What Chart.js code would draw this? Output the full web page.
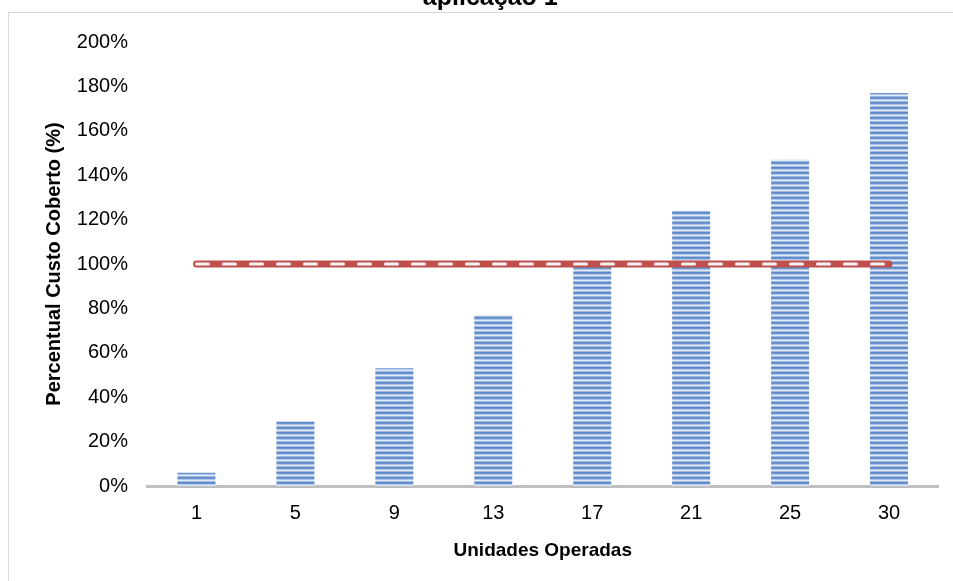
<!DOCTYPE html>
<html>
<head>
<meta charset="utf-8">
<title>Percentual Custo Coberto</title>
<script src="https://cdn.jsdelivr.net/npm/chart.js@4.4.1/dist/chart.umd.min.js"></script>
<style>
  body { margin: 0; background: #ffffff; overflow: hidden; width: 953px; height: 581px; position: relative; }
  .moldura { position: absolute; left: 8px; top: 12px; width: 1000px; height: 640px; border: 1px solid #d9d9d9; }
  .caixa { position: absolute; left: 0; top: -18px; width: 953px; height: 599px; }
</style>
</head>
<body>
<div class="moldura"></div>
<div class="caixa"><canvas id="grafico"></canvas></div>
<script>
/* dados do grafico */
var unidades = ["1", "5", "9", "13", "17", "21", "25", "30"];
var percentualCoberto = [6, 29, 53, 77, 100, 124, 147, 177];
var linhaMeta = [100, 100, 100, 100, 100, 100, 100, 100];
var tituloGrafico = "aplicação 1";
var tituloEixoY = "Percentual Custo Coberto (%)";
var tituloEixoX = "Unidades Operadas";

var fonte = "'Liberation Sans', Arial, sans-serif";

// padrao listrado das barras
function criarListras() {
  var tela = document.createElement("canvas");
  tela.width = 8;
  tela.height = 5;
  var ctx = tela.getContext("2d");
  var cores = ["#5d89ca", "#6d95d0", "#afc5e5", "#e2eaf5", "#a3bbe0"];
  for (var i = 0; i < cores.length; i++) {
    ctx.fillStyle = cores[i];
    ctx.fillRect(0, i, 8, 1);
  }
  return document.getElementById("grafico").getContext("2d").createPattern(tela, "repeat");
}

var contexto = grafico.getContext("2d");
var chartCusto = new Chart(contexto, {
  type: "bar",
  data: {
    labels: unidades,
    datasets: [
      {
        type: "line",
        data: linhaMeta,
        borderColor: "#f2f2f2",
        borderWidth: 3,
        borderDash: [12, 15],
        borderCapStyle: "round",
        pointRadius: 0,
        fill: false,
        order: 1
      },
      {
        type: "line",
        data: linhaMeta,
        borderColor: "#c0504d",
        borderWidth: 7,
        borderCapStyle: "round",
        pointRadius: 0,
        fill: false,
        order: 2
      },
      {
        data: percentualCoberto,
        backgroundColor: criarListras(),
        borderWidth: 0,
        categoryPercentage: 1,
        barPercentage: 0.384,
        order: 3
      }
    ]
  },
  options: {
    responsive: true,
    maintainAspectRatio: false,
    animation: false,
    layout: { padding: { top: 0, left: 42, right: 14.5, bottom: 19 } },
    plugins: {
      legend: { display: false },
      tooltip: { enabled: false },
      title: {
        display: true,
        text: tituloGrafico,
        color: "#000",
        font: { family: fonte, size: 25, weight: "bold", lineHeight: 1.2 },
        padding: { top: 1, bottom: 29 }
      }
    },
    scales: {
      x: {
        z: 1,
        grid: { display: false, drawTicks: false },
        border: { display: true, color: "#bfbfbf", width: 3 },
        ticks: { color: "#000", padding: 15, font: { family: fonte, size: 20 } },
        title: {
          display: true,
          text: tituloEixoX,
          color: "#000",
          font: { family: fonte, size: 19, weight: "bold" },
          padding: { top: 0, bottom: 0 }
        },
        afterFit: function (escala) { escala.height = 76; }
      },
      y: {
        min: 0,
        max: 200,
        grid: { display: false, drawTicks: false },
        border: { display: false },
        ticks: {
          stepSize: 20,
          color: "#000",
          padding: 19,
          font: { family: fonte, size: 20 },
          callback: function (valor) { return valor + "%"; }
        },
        title: {
          display: true,
          text: tituloEixoY,
          color: "#000",
          font: { family: fonte, size: 20, weight: "bold" },
          padding: { top: 0, bottom: 0 }
        },
        afterFit: function (escala) { escala.width = 105; }
      }
    }
  }
});
</script>
</body>
</html>
